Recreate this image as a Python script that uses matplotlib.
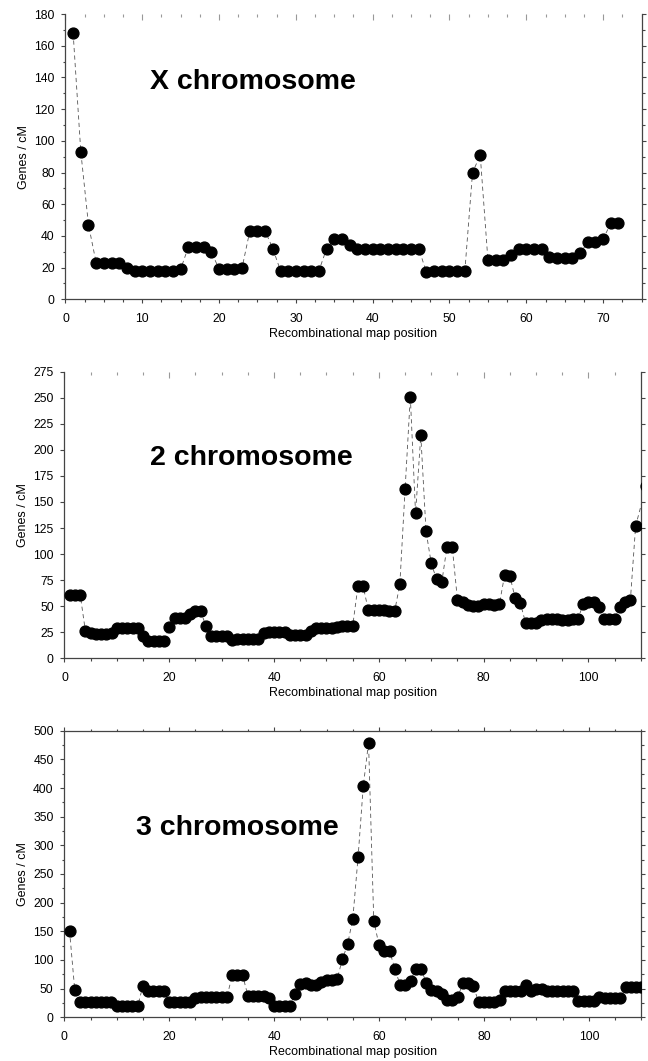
import matplotlib
matplotlib.use("Agg")
import matplotlib.pyplot as plt
from matplotlib.ticker import MultipleLocator

plt.rcParams["font.family"] = ["Liberation Sans", "DejaVu Sans"]

# ---------------------------------------
# Data
# ---------------------------------------

x_pos = list(range(1, 73))
x_density = [168, 93, 47, 23, 23, 23, 23, 20, 18, 18,
             18, 18, 18, 18, 19, 33, 33, 33, 30, 19,
             19, 19, 20, 43, 43, 43, 32, 18, 18, 18,
             18, 18, 18, 32, 38, 38, 34, 32, 32, 32,
             32, 32, 32, 32, 32, 32, 17, 18, 18, 18,
             18, 18, 80, 91, 25, 25, 25, 28, 32, 32,
             32, 32, 27, 26, 26, 26, 29, 36, 36, 38,
             48, 48]

chr2_pos = list(range(1, 110)) + [111]
chr2_density = [61, 61, 61, 26, 24, 23, 23, 23, 24, 29,
                29, 29, 29, 29, 21, 17, 17, 17, 17, 30,
                39, 39, 39, 43, 45, 45, 31, 21, 21, 21,
                21, 18, 19, 19, 19, 19, 19, 24, 25, 25,
                25, 25, 22, 22, 22, 22, 26, 29, 29, 29,
                29, 30, 31, 31, 31, 69, 69, 46, 46, 46,
                46, 45, 45, 71, 162, 251, 139, 214, 122, 91,
                76, 73, 107, 107, 56, 54, 51, 50, 50, 52,
                52, 51, 52, 80, 79, 58, 53, 34, 34, 34,
                37, 38, 38, 38, 37, 37, 38, 38, 52, 54,
                54, 49, 38, 38, 38, 49, 54, 56, 127, 165]

chr3_pos = list(range(1, 111))
chr3_density = [151, 47, 26, 26, 26, 26, 26, 26, 26, 20,
                20, 20, 20, 20, 55, 45, 45, 45, 45, 27,
                27, 27, 27, 27, 33, 35, 35, 35, 35, 35,
                35, 73, 73, 73, 38, 38, 38, 38, 33, 20,
                20, 20, 20, 41, 58, 60, 56, 56, 62, 65,
                65, 66, 101, 127, 172, 279, 404, 479, 168, 126,
                116, 116, 85, 57, 57, 63, 85, 85, 60, 48,
                45, 40, 30, 30, 35, 60, 60, 54, 26, 26,
                26, 26, 30, 45, 45, 45, 45, 56, 46, 49,
                49, 45, 45, 45, 45, 45, 45, 28, 28, 28,
                28, 36, 33, 33, 33, 33, 52, 52, 52, 52]

# ---------------------------------------
# Figure
# ---------------------------------------

fig = plt.figure(figsize=(6.48, 10.61), dpi=100)

spine_color = "#444444"


def draw_panel(rect, pos, dens, name, name_xy, xmax, xmaj, xmin,
               ymax, ymaj, ymin, top_spine):
    ax = fig.add_axes(rect)

    ax.plot(pos, dens, linestyle=(0, (5, 4)), linewidth=0.6,
            color="#555555", zorder=2)
    ax.plot(pos, dens, linestyle="none", marker="o", markersize=7.8,
            color="black", zorder=3)

    ax.set_xlim(0, xmax)
    ax.set_ylim(0, ymax)

    ax.xaxis.set_major_locator(MultipleLocator(xmaj))
    ax.xaxis.set_minor_locator(MultipleLocator(xmin))
    ax.yaxis.set_major_locator(MultipleLocator(ymaj))
    if ymin:
        ax.yaxis.set_minor_locator(MultipleLocator(ymin))

    for side in ["left", "bottom", "right", "top"]:
        ax.spines[side].set_color(spine_color)
        ax.spines[side].set_linewidth(0.9)
    ax.spines["top"].set_visible(top_spine)

    ax.tick_params(axis="both", which="both", direction="out",
                   color=spine_color, width=0.8, labelsize=8.7)
    ax.tick_params(axis="both", which="major", length=3.2)
    ax.tick_params(axis="both", which="minor", length=1.8)
    ax.tick_params(axis="y", which="both", right=True, pad=4.5)
    ax.tick_params(axis="x", which="both", pad=6.5)

    if top_spine:
        ax.tick_params(axis="x", which="both", top=True)
    else:
        # faint inward ticks along the open top edge
        sec = ax.secondary_xaxis("top")
        sec.xaxis.set_major_locator(MultipleLocator(xmaj))
        sec.xaxis.set_minor_locator(MultipleLocator(xmin))
        sec.tick_params(axis="x", which="both", direction="in",
                        color="#999999", width=0.8, labeltop=False)
        sec.tick_params(axis="x", which="major", length=4)
        sec.tick_params(axis="x", which="minor", length=2.5)
        sec.spines["top"].set_visible(False)

    ax.set_xlabel("Recombinational map position", fontsize=9, labelpad=2.5)
    ax.set_ylabel("Genes / cM", fontsize=9)
    ax.yaxis.set_label_coords(-0.062, 0.5)

    ax.text(name_xy[0], name_xy[1], name, transform=ax.transAxes,
            fontsize=20.5, fontweight="bold", ha="left", va="center")
    return ax


draw_panel([0.101, 0.7179, 0.889, 0.2689], x_pos, x_density,
           "X chromosome", (0.147, 0.762), 75, 10, 2.5, 180, 20, 10, False)

draw_panel([0.0995, 0.3795, 0.8895, 0.2702], chr2_pos, chr2_density,
           "2 chromosome", (0.148, 0.699), 110, 20, 5, 275, 25, None, False)

draw_panel([0.0992, 0.0412, 0.8905, 0.2701], chr3_pos, chr3_density,
           "3 chromosome", (0.125, 0.660), 110, 20, 5, 500, 50, 25, True)

fig.savefig("out.png", dpi=100)
